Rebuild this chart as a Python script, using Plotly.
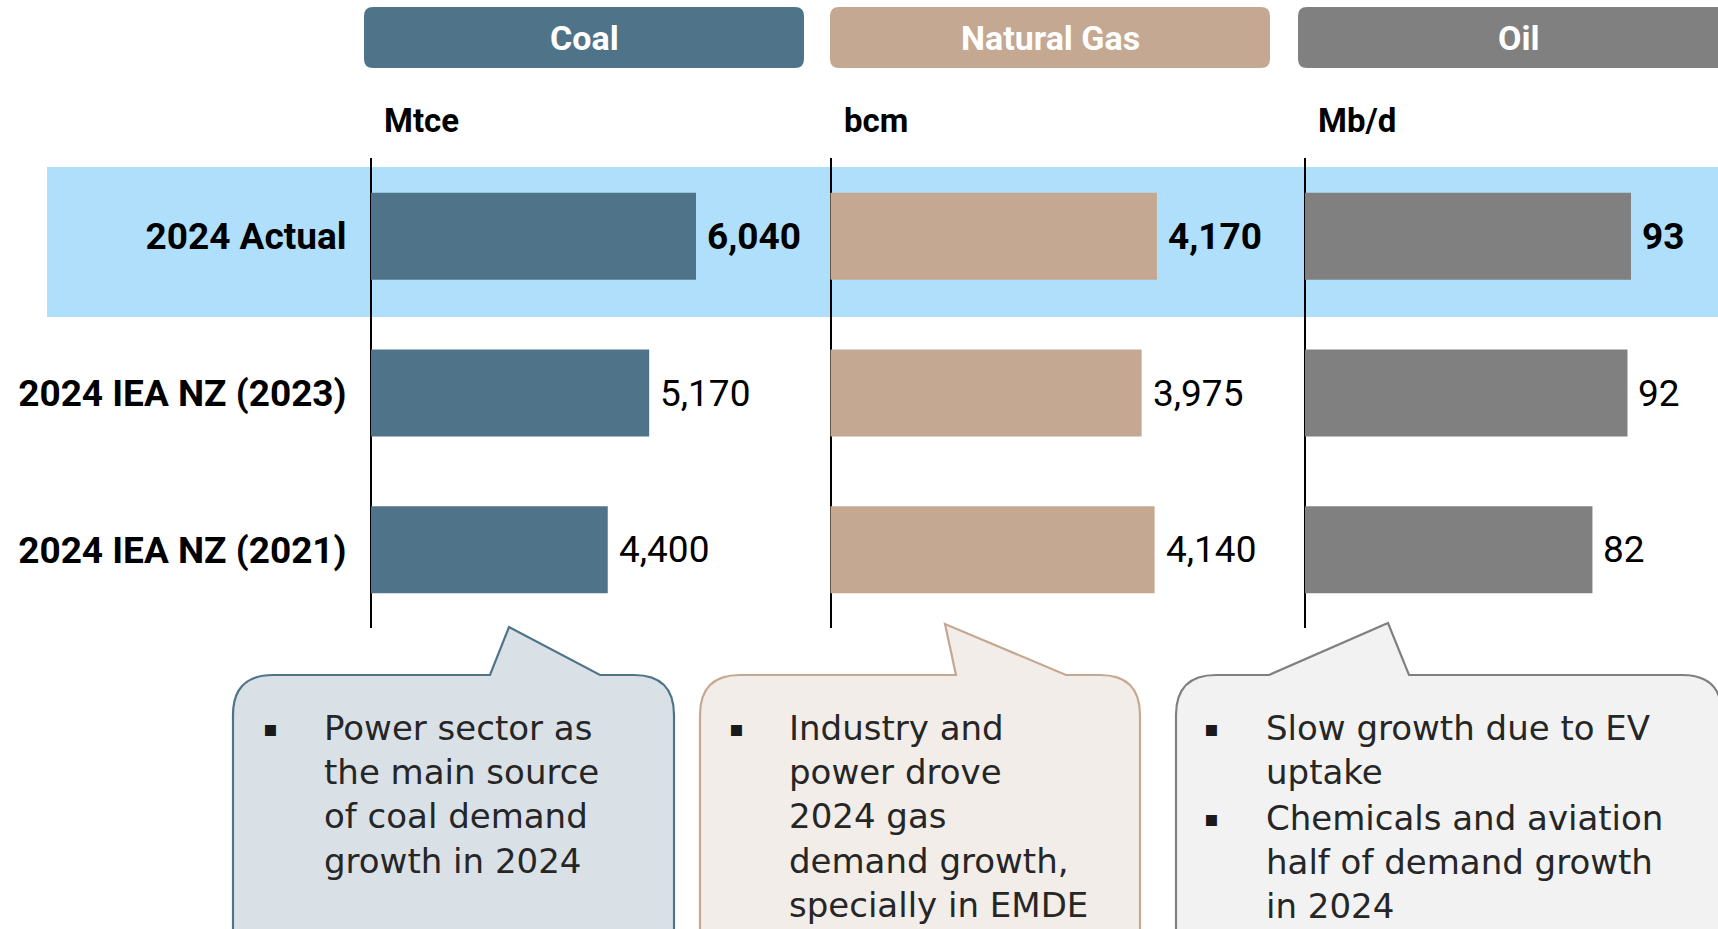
import plotly.graph_objects as go

#### data
categories = ["2024 Actual", "2024 IEA NZ (2023)", "2024 IEA NZ (2021)"]
fuels = ["Coal", "Natural Gas", "Oil"]
units = ["Mtce", "bcm", "Mb/d"]
coal_values = [6040, 5170, 4400]
gas_values = [4170, 3975, 4140]
oil_values = [93, 92, 82]

notes_coal = [["Power sector as", "the main source", "of coal demand", "growth in 2024"]]
notes_gas = [["Industry and", "power drove", "2024 gas", "demand growth,", "specially in EMDE"]]
notes_oil = [["Slow growth due to EV", "uptake"], ["Chemicals and aviation", "half of demand growth", "in 2024"]]

#### config
W, H = 1718, 929
FONT = "Roboto"
NOTE_FONT = "DejaVu Sans"

def px(x):
    return x / W

def py(y):
    return 1 - y / H

def path_from_px(points):
    # points are (cmd, x, y, ...) in pixels -> svg path in paper coords
    parts = []
    for p in points:
        cmd = p[0]
        coords = p[1:]
        xy = []
        for i in range(0, len(coords), 2):
            xy.append(f"{px(coords[i]):.5f},{py(coords[i + 1]):.5f}")
        parts.append(cmd + " " + " ".join(xy))
    return " ".join(parts) + " Z"

colors = {"Coal": "#4F7489", "Natural Gas": "#C4A891", "Oil": "#808080"}
fills = {"Coal": "#D9E1E7", "Natural Gas": "#F2EDE8", "Oil": "#F2F2F2"}

# panel geometry: zero position, right edge, px per unit
panels = [
    ("Coal", coal_values, 371, 829, 325 / 6040),
    ("Natural Gas", gas_values, 830.5, 1304, 326.4 / 4170),
    ("Oil", oil_values, 1305, 1718, 326 / 93),
]

fig = go.Figure()

shapes = []
annotations = []

#### highlight band for actual row
shapes.append(dict(type="rect", xref="paper", yref="paper", x0=px(47), x1=1, y0=py(317), y1=py(167),
                   fillcolor="#B0DFFB", line_width=0, layer="below"))

for i, (fuel, vals, x0, x1, ppu) in enumerate(panels, start=1):
    xa = "x" if i == 1 else f"x{i}"

    fig.add_bar(
        x=vals,
        y=categories,
        orientation="h",
        width=0.555,
        marker_color=colors[fuel],
        marker_line_width=0,
        xaxis=xa,
        yaxis="y",
        hoverinfo="skip",
    )

    for j, (cat, v) in enumerate(zip(categories, vals)):
        txt = f"{v:,}"
        if j == 0:
            txt = f"<b>{txt}</b>"
        annotations.append(dict(
            x=v, y=cat, xref=xa, yref="y", text=txt, showarrow=False,
            xanchor="left", yanchor="middle", xshift=9,
            font=dict(family=FONT, size=37, color="black"),
        ))

    axis_key = "xaxis" if i == 1 else f"xaxis{i}"
    fig.update_layout(**{axis_key: dict(
        domain=[px(x0 - 3), min(1, px(x1))],
        range=[-3 / ppu, (x1 - x0) / ppu],
        anchor="y",
        showgrid=False,
        showticklabels=False,
        ticks="",
        zeroline=True,
        zerolinecolor="black",
        zerolinewidth=1.5,
        showline=False,
        fixedrange=True,
    )})

    # units
    annotations.append(dict(
        x=px(x0 + 11), y=py(120), xref="paper", yref="paper", text=f"<b>{units[i - 1]}</b>",
        showarrow=False, xanchor="left", yanchor="middle",
        font=dict(family=FONT, size=33, color="black"),
    ))

#### header boxes
header_boxes = [("Coal", 364, 804), ("Natural Gas", 830, 1270), ("Oil", 1298, 1738)]
for fuel, hx0, hx1 in header_boxes:
    r = 9
    ht, hb = 7, 68
    path = path_from_px([
        ("M", hx0 + r, ht), ("L", hx1 - r, ht), ("Q", hx1, ht, hx1, ht + r),
        ("L", hx1, hb - r), ("Q", hx1, hb, hx1 - r, hb), ("L", hx0 + r, hb),
        ("Q", hx0, hb, hx0, hb - r), ("L", hx0, ht + r), ("Q", hx0, ht, hx0 + r, ht),
    ])
    shapes.append(dict(type="path", xref="paper", yref="paper", path=path,
                       fillcolor=colors[fuel], line_width=0, layer="below"))
    annotations.append(dict(
        x=px((hx0 + hx1) / 2), y=py(38), xref="paper", yref="paper", text=f"<b>{fuel}</b>",
        showarrow=False, xanchor="center", yanchor="middle",
        font=dict(family=FONT, size=34, color="white"),
    ))

#### callouts
callouts = [
    ("Coal", 233, 674, (490, 509, 627, 600), notes_coal, 270, 322),
    ("Natural Gas", 700, 1140, (956, 945, 624, 1066), notes_gas, 736, 787),
    ("Oil", 1176, 1722, (1269, 1388, 623, 1409), notes_oil, 1211, 1264),
]
for fuel, bx0, bx1, (pl, tx, ty, pr), notes, bullet_x, text_x in callouts:
    r = 40
    top, bot = 675, 990
    path = path_from_px([
        ("M", bx0, bot), ("L", bx0, top + r), ("Q", bx0, top, bx0 + r, top),
        ("L", pl, top), ("L", tx, ty), ("L", pr, top),
        ("L", bx1 - r, top), ("Q", bx1, top, bx1, top + r), ("L", bx1, bot),
    ])
    shapes.append(dict(type="path", xref="paper", yref="paper", path=path,
                       fillcolor=fills[fuel], line=dict(color=colors[fuel], width=2.2), layer="below"))

    line_h = 45
    first = 728
    k = 0
    for note in notes:
        annotations.append(dict(
            x=px(bullet_x), y=py(first + k * line_h), xref="paper", yref="paper", text="▪",
            showarrow=False, xanchor="center", yanchor="middle",
            font=dict(family="DejaVu Sans", size=22, color="#1a1a1a"),
        ))
        annotations.append(dict(
            x=px(text_x), y=py(first + k * line_h - line_h / 2), xref="paper", yref="paper",
            text="<br>".join(note), showarrow=False, xanchor="left", yanchor="top", align="left",
            font=dict(family=NOTE_FONT, size=34, color="#262626"),
        ))
        k += len(note)

fig.update_layout(
    width=W,
    height=H,
    margin=dict(l=0, r=0, t=0, b=0),
    paper_bgcolor="white",
    plot_bgcolor="rgba(0,0,0,0)",
    showlegend=False,
    barmode="group",
    shapes=shapes,
    annotations=annotations,
    yaxis=dict(
        domain=[py(628), py(158)],
        type="category",
        categoryorder="array",
        categoryarray=categories,
        range=[2.5, -0.5],
        anchor="x",
        showgrid=False,
        zeroline=False,
        showline=False,
        ticks="outside",
        ticklen=13,
        tickcolor="rgba(0,0,0,0)",
        tickfont=dict(family=FONT, size=37, color="black"),
        ticktext=[f"<b>{c}</b>" for c in categories],
        tickvals=categories,
        fixedrange=True,
    ),
)

# page without body margin so the figure fills the window
fig.write_html(
    "out.html",
    config={"displayModeBar": False},
    post_script="document.body.style.margin='0';document.body.style.overflow='hidden';",
)
